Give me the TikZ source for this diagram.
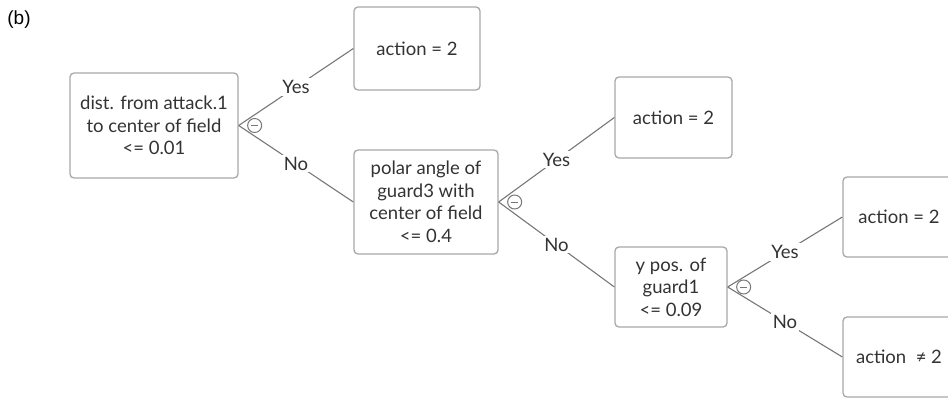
\documentclass[tikz,border=0pt]{standalone}
\usepackage{fontspec}
\setmainfont{Lato}
\newfontfamily\tagfont{Liberation Sans}
\definecolor{txtgray}{HTML}{333333}
\definecolor{boxgray}{HTML}{A8A8A8}
\definecolor{linegray}{HTML}{777777}
\tikzset{
  leaf/.style={draw=boxgray, line width=1.3pt, rounded corners=4pt, align=center,
    text=txtgray, font=\fontsize{18.5}{22.5}\selectfont, inner sep=0pt},
  edge/.style={draw=linegray, line width=1.1pt},
  answer/.style={fill=white, text=txtgray, inner sep=2pt, font=\fontsize{18.5}{22.5}\selectfont},
  knob/.style={circle, draw=linegray, line width=1pt, minimum size=14pt, inner sep=0pt,
    path picture={\draw[linegray, line width=1pt]
      ([xshift=-3.2pt]path picture bounding box.center) -- ([xshift=3.2pt]path picture bounding box.center);}}
}
\begin{document}
\begin{tikzpicture}[x=1pt,y=1pt]
    \useasboundingbox (0,0) rectangle (948,400);
    \node[text=black, font=\tagfont\fontsize{19}{22}\selectfont] (tag) at (19,380.5) {(b)};

    % split nodes
    \node[leaf, minimum width=168pt, minimum height=105pt] (dist) at (154,274.5) {dist. from attack.1\\to center of field\\<= 0.01};
    \node[leaf, minimum width=144pt, minimum height=104pt] (polar) at (426,198) {polar angle of\\guard3 with\\center of field\\<= 0.4};
    \node[leaf, minimum width=112pt, minimum height=80pt] (ypos) at (671,113) {y pos. of\\guard1\\<= 0.09};

    % leaves
    \node[leaf, minimum width=126pt, minimum height=83pt] (actA) at (417,351.5) {action = 2};
    \node[leaf, minimum width=117pt, minimum height=81pt] (actB) at (673.5,282.5) {action = 2};
    \node[leaf, minimum width=112pt, minimum height=80pt] (actC) at (899,183) {action = 2};
    \node[leaf, minimum width=112pt, minimum height=80pt] (actD) at (899,43) {action~ ≠ 2};

    \draw[edge] (dist.east) -- node[answer] {Yes} (actA.west);
    \draw[edge] (dist.east) -- node[answer] {No} (polar.west);
    \draw[edge] (polar.east) -- node[answer] {Yes} (actB.west);
    \draw[edge] (polar.east) -- node[answer] {No} (ypos.west);
    \draw[edge] (ypos.east) -- node[answer] {Yes} (actC.west);
    \draw[edge] (ypos.east) -- node[answer] {No} (actD.west);

    \node[knob, xshift=16pt] (k1) at (dist.east) {};
    \node[knob, xshift=16pt] (k2) at (polar.east) {};
    \node[knob, xshift=16pt] (k3) at (ypos.east) {};
\end{tikzpicture}
\end{document}
